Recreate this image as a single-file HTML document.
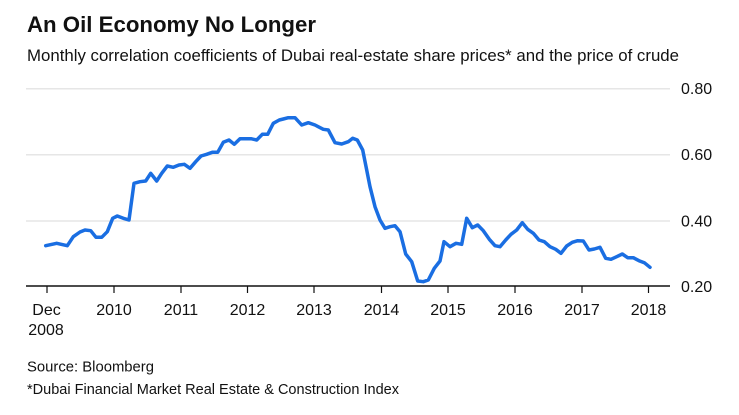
<!DOCTYPE html>
<html><head><meta charset="utf-8"><style>
html,body{margin:0;padding:0;background:#fff;}
svg{display:block;}
text{font-family:"Liberation Sans",sans-serif;fill:#111;}
</style></head><body>
<svg width="739" height="415" viewBox="0 0 739 415" xmlns="http://www.w3.org/2000/svg">
<rect width="739" height="415" fill="#fff"/>
<text x="27" y="32" font-size="22" font-weight="bold" textLength="289" lengthAdjust="spacingAndGlyphs" fill="#000">An Oil Economy No Longer</text>
<text x="27" y="61" font-size="17" textLength="652" lengthAdjust="spacingAndGlyphs" fill="#222">Monthly correlation coefficients of Dubai real-estate share prices* and the price of crude</text>
<g stroke="#e6e6e6" stroke-width="1.5">
<line x1="26" y1="88.7" x2="670" y2="88.7"/>
<line x1="26" y1="154.7" x2="670" y2="154.7"/>
<line x1="26" y1="221" x2="670" y2="221"/>
</g>
<line x1="26" y1="286" x2="670" y2="286" stroke="#111" stroke-width="1.5"/>
<g stroke="#111" stroke-width="1.2">
<line x1="47" y1="286" x2="47" y2="293"/>
<line x1="114" y1="286" x2="114" y2="293"/>
<line x1="181" y1="286" x2="181" y2="293"/>
<line x1="247.5" y1="286" x2="247.5" y2="293"/>
<line x1="314" y1="286" x2="314" y2="293"/>
<line x1="381.5" y1="286" x2="381.5" y2="293"/>
<line x1="448" y1="286" x2="448" y2="293"/>
<line x1="515" y1="286" x2="515" y2="293"/>
<line x1="582" y1="286" x2="582" y2="293"/>
<line x1="648.5" y1="286" x2="648.5" y2="293"/>
</g>
<g font-size="16" text-anchor="middle">
<text x="46.5" y="315">Dec</text>
<text x="46" y="335">2008</text>
<text x="114" y="315">2010</text>
<text x="181" y="315">2011</text>
<text x="247.5" y="315">2012</text>
<text x="314" y="315">2013</text>
<text x="381.5" y="315">2014</text>
<text x="448" y="315">2015</text>
<text x="515" y="315">2016</text>
<text x="582" y="315">2017</text>
<text x="648.5" y="315">2018</text>
</g>
<g font-size="16">
<text x="681" y="94">0.80</text>
<text x="681" y="160">0.60</text>
<text x="681" y="226.5">0.40</text>
<text x="681" y="292">0.20</text>
</g>
<text x="27" y="371.7" font-size="15" textLength="127" lengthAdjust="spacingAndGlyphs" fill="#222">Source: Bloomberg</text>
<text x="27" y="394" font-size="15" textLength="372" lengthAdjust="spacingAndGlyphs" fill="#222">*Dubai Financial Market Real Estate &amp; Construction Index</text>
<polyline fill="none" stroke="#1a6ee2" stroke-width="3.5" stroke-linejoin="round" stroke-linecap="round" points="
45.7,245.7 56.7,243.3 67.3,245.7 73.3,236.7 80,232 85,230 90.7,230.7 96,237.3 101.7,237.3 107.3,231.7 112.7,218.3 117.3,216 123.3,218.3 129,220 134,183.3 140,181.7 145.7,181 150.7,173.3 156.7,181 161.7,173.3 167.3,166 173.3,167.3 179,165 184.3,164.3 190,168.3 195.7,161.7 201,156 206.7,154.3 212.3,152.3 217.7,152.3 223.3,142.3 229,140 234.3,144.3 240,138.7 245.7,138.7 251,138.7 256.7,140 262.3,134.3 267.7,134.3 273.3,123.3 279.3,120 283.3,119 288.3,117.7 295,117.7 301.7,125 308.3,122.7 315,125 323.3,129.3 328.3,130 335,142.7 341.7,144 348.3,141.7 352.7,138.3 357.3,140 362.7,150 366.7,170 370,186.7 375,206.7 380,220 385,228.3 390,226.7 395,225.7 400,231.7 405.7,254 411.7,261.7 417.7,281 423.3,281.7 428.3,280 434.3,268.3 440,261 444,241.7 450,246.7 456,243.3 461.7,244.3 466.7,218.3 472.3,227.7 477.7,225 483.3,230.7 489.3,239.3 495,245.7 500,246.7 505.7,240 511,234.3 516.7,230 522.3,222.7 527.7,229.3 533.3,233.3 539,240 544.3,241.7 550,246.7 555.7,249.3 561,253.3 566.7,246 572.3,242.3 577.7,240.7 583.3,241 589,250 594.3,249 600,247.3 605.7,258.3 611,259.3 616.7,256.7 622.3,254 627.7,257.7 633.3,257.7 639,260.7 644.3,262.7 650,267.3"/>
</svg>
</body></html>
